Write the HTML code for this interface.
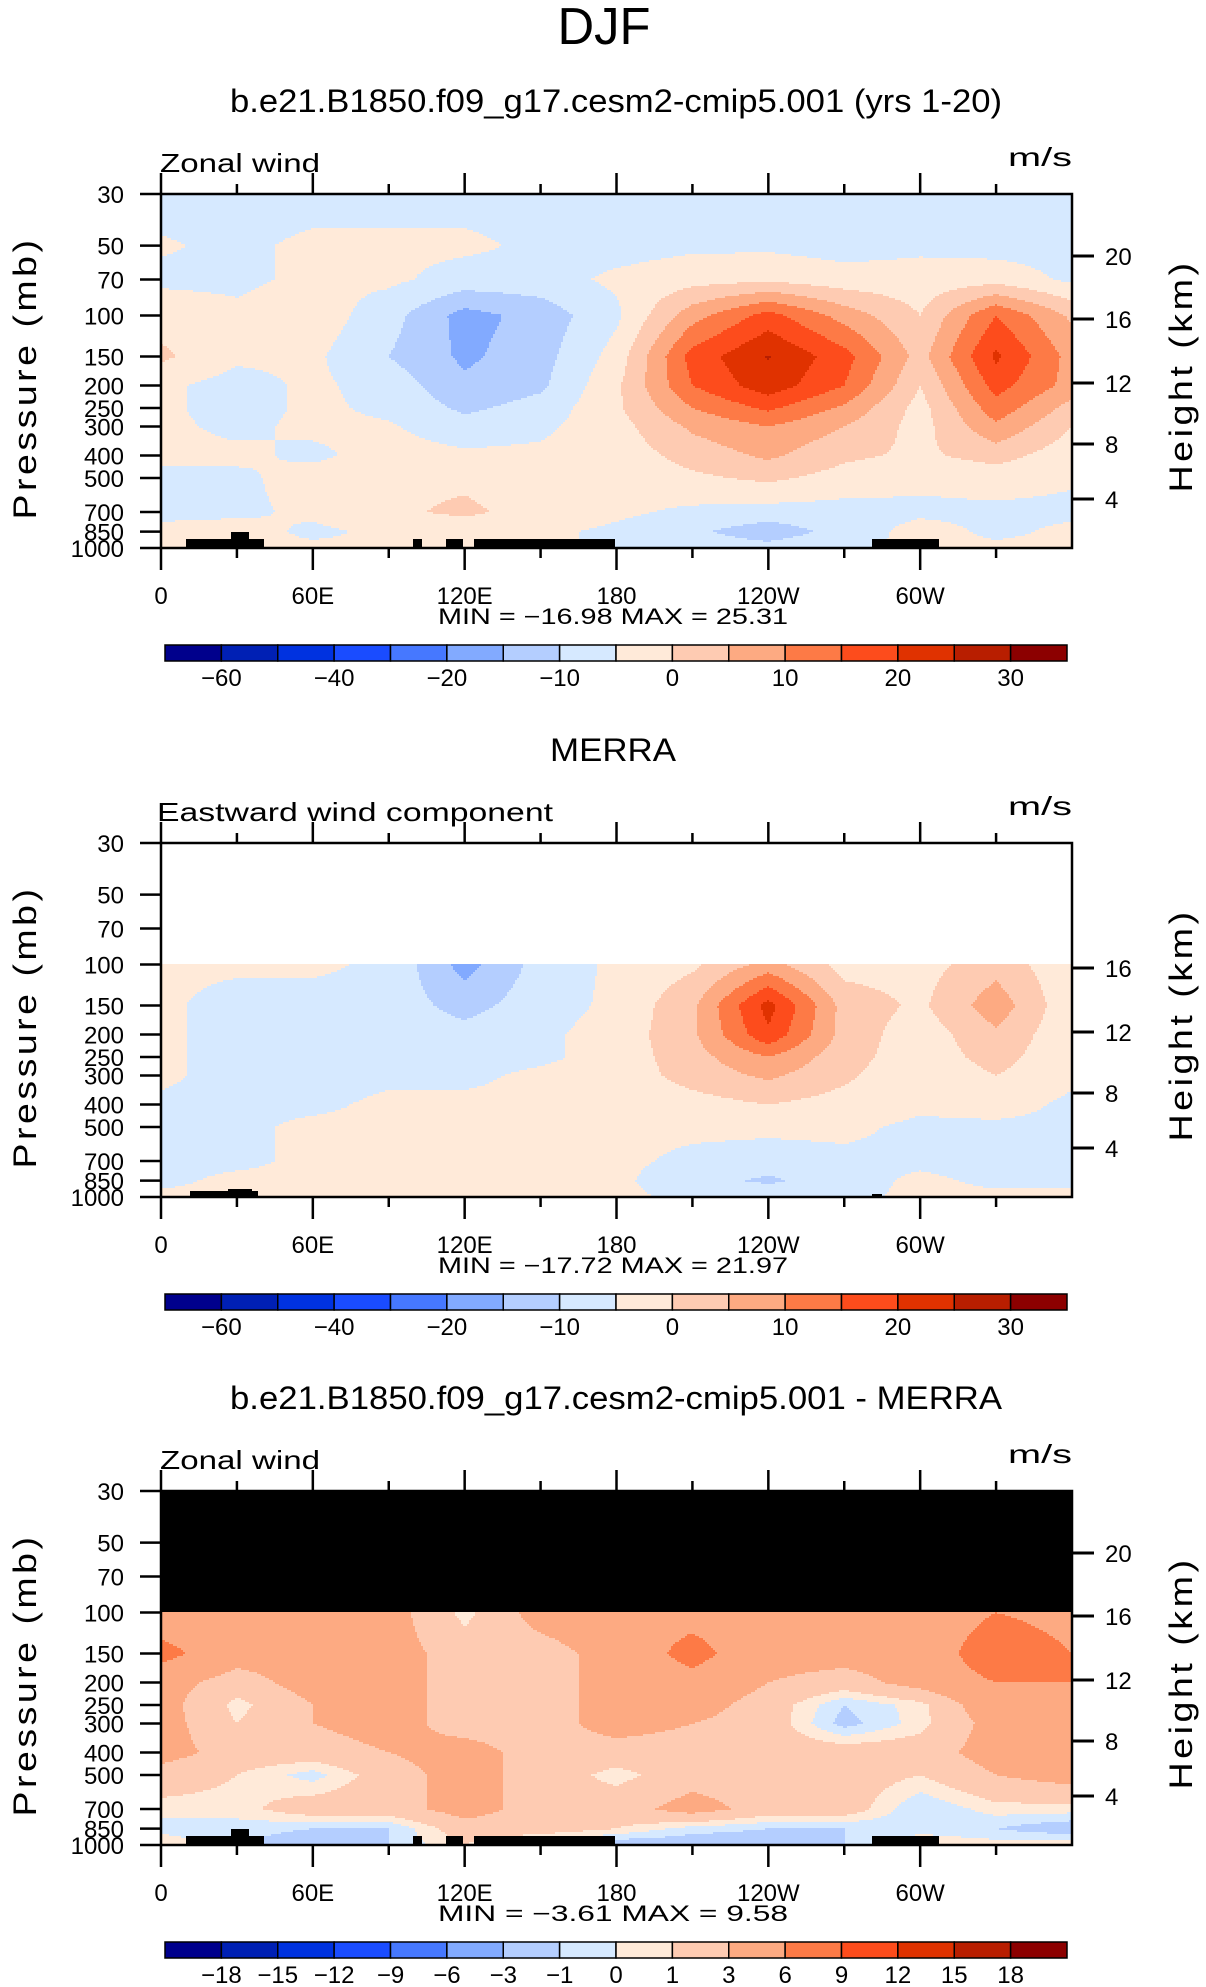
<!DOCTYPE html>
<html><head><meta charset="utf-8"><title>DJF Zonal wind</title>
<style>
html,body{margin:0;padding:0;background:#fff;}
svg{display:block;font-family:"Liberation Sans",sans-serif;}
.tk{font-size:26px;fill:#000;}
.tl{font-size:24px;fill:#000;text-anchor:end;}
.tr{font-size:24px;fill:#000;}
.tc{font-size:24px;fill:#000;text-anchor:middle;}
.mm{font-size:22px;fill:#000;text-anchor:middle;}
.ttl{font-size:32px;fill:#000;text-anchor:middle;}
.ax{font-size:32px;fill:#000;text-anchor:middle;letter-spacing:3px;}
</style></head>
<body>
<svg id="chart" width="1206" height="1987" viewBox="0 0 1206 1987" xmlns="http://www.w3.org/2000/svg">
<rect x="0" y="0" width="1206" height="1987" fill="#fff"/>
<text x="604" y="44" font-size="52" text-anchor="middle" fill="#000" textLength="93" lengthAdjust="spacingAndGlyphs">DJF</text>

<g id="p0">
<text class="ttl" x="616" y="112" textLength="772" lengthAdjust="spacingAndGlyphs">b.e21.B1850.f09_g17.cesm2-cmip5.001 (yrs 1-20)</text>
<text class="tk" x="160" y="172" textLength="160" lengthAdjust="spacingAndGlyphs">Zonal wind</text>
<text class="tk" x="1072" y="166" text-anchor="end" textLength="64" lengthAdjust="spacingAndGlyphs">m/s</text>
<g id="plot0"></g>
<text class="mm" x="613" y="624" textLength="350" lengthAdjust="spacingAndGlyphs">MIN =  −16.98   MAX =    25.31</text>
<g id="cb0"></g>
</g>

<g id="p1" transform="translate(0,649)">
<text class="ttl" x="613" y="112" textLength="126" lengthAdjust="spacingAndGlyphs">MERRA</text>
<text class="tk" x="157" y="172" textLength="396" lengthAdjust="spacingAndGlyphs">Eastward wind component</text>
<text class="tk" x="1072" y="166" text-anchor="end" textLength="64" lengthAdjust="spacingAndGlyphs">m/s</text>
<g id="plot1"></g>
<text class="mm" x="613" y="624" textLength="350" lengthAdjust="spacingAndGlyphs">MIN =  −17.72   MAX =    21.97</text>
<g id="cb1"></g>
</g>

<g id="p2" transform="translate(0,1297)">
<text class="ttl" x="616" y="112" textLength="772" lengthAdjust="spacingAndGlyphs">b.e21.B1850.f09_g17.cesm2-cmip5.001 - MERRA</text>
<text class="tk" x="160" y="172" textLength="160" lengthAdjust="spacingAndGlyphs">Zonal wind</text>
<text class="tk" x="1072" y="166" text-anchor="end" textLength="64" lengthAdjust="spacingAndGlyphs">m/s</text>
<g id="plot2"></g>
<text class="mm" x="613" y="624" textLength="350" lengthAdjust="spacingAndGlyphs">MIN =   −3.61   MAX =     9.58</text>
<g id="cb2"></g>
</g>
</svg>

<script>
// ---------- data ----------
const LONS = [0,30,60,90,120,150,180,210,240,270,300,330,360];
const P_LEVELS = [30,50,70,100,150,200,250,300,400,500,700,850,1000];
const P_LEVELS_LOW = [100,150,200,250,300,400,500,700,850,1000];

const modelU = [
 [-7,-7,-7,-7,-7,-7,-7,-7,-7,-7,-7,-7,-7],
 [-4.5,-6,-4,-4,-4,-6,-7,-6,-6,-7,-6,-7,-7],
 [-6,-6,-4,-4,-7,-7,-4,-2,-1,-3,-3,-2,-6],
 [-2,-4,-2,-8,-17,-13,-6,8,17,8,0,15,4],
 [1,-4,-4,-10,-16,-12,-3,17,25.3,17,3,21,8],
 [-4,-7,-4,-7,-14,-11,-1,15,23,15,0,17,8],
 [-4,-7,-4,-6,-11,-8,-1,10,16,9,-2,13,3],
 [-4,-6,-4,-4.5,-8,-6,-2,6,10,5,-2,9,0],
 [-4,-4,-6,-3,-4,-4,-3,2,6,1,-1,2,-3],
 [-6,-6,-3,-1,-1,-3,-4,-1,1,-2,-4,-3,-4.5],
 [-6,-6,-4,-1,1,-2,-4,-6,-7,-7,-6,-6,-6],
 [-4,-3,-6,-4,-3,-4,-6,-9,-13,-8,-3,-6,-4],
 [-4,-4,-4,-4,-4,-4,-6,-7,-8,-6,-4,-4,-4]
];
const merraU = [
 [-4,-4,-4,-6,-17,-8,-4,-1,7,-2,-2,3,-4],
 [-4,-7,-7,-7,-12,-7,-4,4,22,3,-1,8,-4],
 [-4,-7,-7,-7,-8,-6,-3,4,19,3,-3,4,-4],
 [-4,-7,-7,-6,-7,-6,-3,3,10,2,-3,2,-4],
 [-4,-7,-7,-6,-6,-4,-3,2,6,1,-4,0,-4],
 [-6,-6,-6,-4,-4,-4,-4,-2,0,-2,-4,-3,-6],
 [-6,-6,-4,-4,-4,-4,-4,-4,-4,-4,-6,-6,-6],
 [-6,-6,-4,-2,-3,-4,-4,-6,-7,-6,-6,-7,-7],
 [-6,-4,-4,-3,-4,-4,-4,-8,-11,-7,-4,-6,-6],
 [-4,-4,-4,-4,-4,-4,-4,-6,-6,-6,-4,-4,-4]
];
const diffU = [
 [4,4,4,4,0.5,4,5,5,4,4,4,6,5],
 [7,4,4,4,2,2,4,7,4,4,4,8,6],
 [4,2,4,4,2,2,4,5,3,2,4,6,6],
 [4,0.5,3,4,2,2,4,4,2,-1,0.5,5,5],
 [4,1,3,4,2,2,4,3,2,-1.5,0.5,4,4],
 [4,2,2,3,4,2,2,2,2,2,2,4,4],
 [2,1,-0.5,2,4,2,0.5,2,2,2,1,3,4],
 [0.5,0.5,2,2,4,2,2,4,2,2,-1,0.5,0.5],
 [-0.5,-0.5,-1,-1,2,2,1,-0.5,-1,-1,-0.5,-1,-2],
 [1,-1,-2,-1,1,-1,-2,-2,-2,-1,1,0.5,1]
];
const BOUNDS_WIND = [-60,-50,-40,-30,-20,-15,-10,-5,0,5,10,15,20,25,30];
const BOUNDS_DIFF = [-18,-15,-12,-9,-6,-3,-1,0,1,3,6,9,12,15,18];
const LABELS_WIND = ["−60","","−40","","−20","","−10","","0","","10","","20","","30"];
const LABELS_DIFF = ["−18","−15","−12","−9","−6","−3","−1","0","1","3","6","9","12","15","18"];
const X_TICK_LABELS = ["0","60E","120E","180","120W","60W"];
const P_TICK_LABELS = [30,50,70,100,150,200,250,300,400,500,700,850,1000];
const COLORS = ["#00008c","#0020b4","#0032e0","#1a4cff","#4678ff","#82aaff","#b4ceff","#d6e9ff",
                "#ffead9","#fecbb2","#fdaa82","#fd7a46","#fd4c1c","#e03200","#b81e00","#8c0000"];

// ---------- geometry ----------
const X0 = 161, X1 = 1072, YT = 194, YB = 548;
function xLon(l){ return X0 + (l/360)*(X1-X0); }
function yP(p){ return YT + Math.log(p/30)/Math.log(1000/30)*(YB-YT); }
const KM_Y = {20:256,16:319,12:383,8:444,4:499};
const NS = "http://www.w3.org/2000/svg";
function mk(tag, attrs, parent){
  const e = document.createElementNS(NS, tag);
  for (const k in attrs) e.setAttribute(k, attrs[k]);
  parent.appendChild(e);
  return e;
}
function colorIdx(v, b){ let i=0; while(i<b.length && v>=b[i]) i++; return i; }
function sample(grid, levels, lon, p){
  let i = Math.min(Math.floor(lon/30), LONS.length-2);
  const fx = (lon - LONS[i])/30;
  const lp = Math.log(p);
  let j = 0;
  while (j < levels.length-2 && p > levels[j+1]) j++;
  let fy = (lp - Math.log(levels[j]))/(Math.log(levels[j+1]) - Math.log(levels[j]));
  fy = Math.min(Math.max(fy,0),1);
  const a = grid[j][i], b = grid[j][i+1], c = grid[j+1][i], d = grid[j+1][i+1];
  return (a*(1-fx)+b*fx)*(1-fy) + (c*(1-fx)+d*fx)*fy;
}

function drawField(g, grid, levels, bounds, topMask){
  const yStart = yP(levels[0]);
  if (topMask){
    const m = mk("rect",{x:X0,y:YT,width:X1-X0,height:yStart-YT,fill:topMask},g);
    
    
  }
  const fg = mk("g",{"shape-rendering":"crispEdges"},g);
  
  
  const DX = 2, DY = 2;
  for (let y = Math.floor(yStart); y < YB; y += DY){
    const yc = Math.min(y + DY/2, YB);
    const p = 30*Math.exp((yc-YT)/(YB-YT)*Math.log(1000/30));
    let runStart = X0, runIdx = -1;
    let x = X0;
    while (true){
      let idx = -1;
      const done = x >= X1;
      if (!done){
        const lon = Math.min(Math.max((x+DX/2-X0)/(X1-X0)*360,0),360);
        idx = colorIdx(sample(grid, levels, lon, Math.max(p, levels[0])), bounds);
      }
      if (idx !== runIdx || done){
        if (runIdx >= 0){
          const r = mk("rect",{x:runStart,y:y,width:Math.min(x,X1)-runStart+0.5,height:Math.min(DY,YB-y)+0.3,fill:COLORS[runIdx]},fg);
          
          
        }
        runStart = x; runIdx = idx;
      }
      if (done) break;
      x += DX;
    }
  }
}

const TOPO = [[186,264,9],[231,249,16],[413,422,9],[446,463,9],[474,615,9],[872,939,9]];
const TOPO2 = [[190,258,6],[228,252,8],[872,882,3]];
function drawTopo(g, list){
  list.forEach(t=>{
    const r = mk("rect",{x:t[0],y:YB-t[2],width:t[1]-t[0],height:t[2],fill:"#000"},g);
    
    
  });
}

function drawAxes(g, kmList){
  const fr = mk("rect",{x:X0,y:YT,width:X1-X0,height:YB-YT,fill:"none",stroke:"#000","stroke-width":2.5},g);
  
  
  for (let l=0; l<=330; l+=30){
    const major = l%60===0;
    const x = xLon(l);
    const t1 = mk("line",{x1:x,x2:x,y1:YT,y2:YT-(major?21:10),stroke:"#000","stroke-width":2.5},g);
    
    
    const t2 = mk("line",{x1:x,x2:x,y1:YB,y2:YB+(major?22:10),stroke:"#000","stroke-width":2.5},g);
    
    
    if (major){
      const tx = mk("text",{x:x,y:604,class:"tc"},g);
      tx.textContent = X_TICK_LABELS[l/60];
      
      
    }
  }
  P_TICK_LABELS.forEach(p=>{
    const y = yP(p);
    const t = mk("line",{x1:X0-21,x2:X0,y1:y,y2:y,stroke:"#000","stroke-width":2.5},g);
    
    
    const tx = mk("text",{x:124,y:y+9,class:"tl"},g);
    tx.textContent = p;
    
    
  });
  kmList.forEach(k=>{
    const y = KM_Y[k];
    const t = mk("line",{x1:X1,x2:X1+22,y1:y,y2:y,stroke:"#000","stroke-width":3},g);
    
    
    const tx = mk("text",{x:1105,y:y+9,class:"tr"},g);
    tx.textContent = k;
    
    
  });
  const yl = mk("text",{x:0,y:0,class:"ax",transform:"translate(36,378) rotate(-90)",textLength:283,lengthAdjust:"spacingAndGlyphs"},g);
  yl.textContent = "Pressure (mb)";
  
  
  const yr = mk("text",{x:0,y:0,class:"ax",transform:"translate(1192,376) rotate(-90)",textLength:233,lengthAdjust:"spacingAndGlyphs"},g);
  yr.textContent = "Height (km)";
  
  
}

function drawColorbar(g, labels){
  const cx0 = 165, cx1 = 1067, cy = 645, ch = 16;
  const w = (cx1-cx0)/COLORS.length;
  COLORS.forEach((c,i)=>{
    const r = mk("rect",{x:cx0+i*w,y:cy,width:w,height:ch,fill:c,stroke:"#000","stroke-width":1.5},g);
    
    
  });
  labels.forEach((t,i)=>{
    if (!t) return;
    const tx = mk("text",{x:cx0+(i+1)*w,y:686,class:"tc"},g);
    tx.textContent = t;
    
    
  });
}

const g0 = document.getElementById("plot0");
drawField(g0, modelU, P_LEVELS, BOUNDS_WIND, null);
drawTopo(g0, TOPO);
drawAxes(g0, [20,16,12,8,4]);
drawColorbar(document.getElementById("cb0"), LABELS_WIND);

const g1 = document.getElementById("plot1");
drawField(g1, merraU, P_LEVELS_LOW, BOUNDS_WIND, "#ffffff");
drawTopo(g1, TOPO2);
drawAxes(g1, [16,12,8,4]);
drawColorbar(document.getElementById("cb1"), LABELS_WIND);

const g2 = document.getElementById("plot2");
drawField(g2, diffU, P_LEVELS_LOW, BOUNDS_DIFF, "#000000");
drawTopo(g2, TOPO);
drawAxes(g2, [20,16,12,8,4]);
drawColorbar(document.getElementById("cb2"), LABELS_DIFF);
</script>
</body></html>
